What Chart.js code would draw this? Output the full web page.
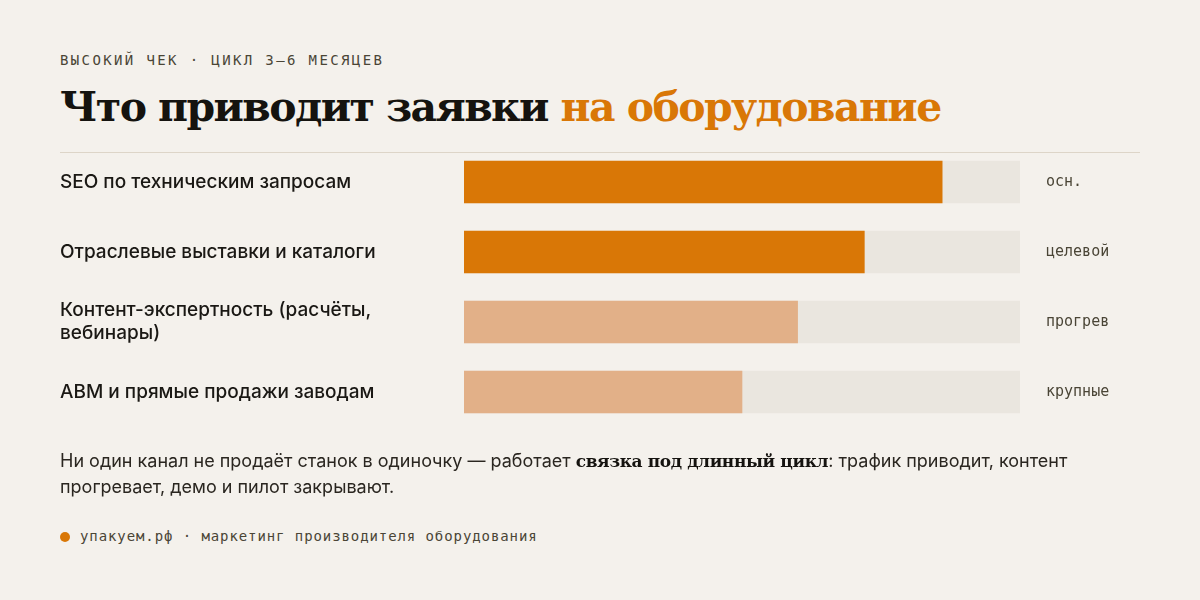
<!DOCTYPE html>
<html lang="ru">
<head>
<meta charset="utf-8">
<script src="https://cdn.jsdelivr.net/npm/chart.js@4"></script>
<style>
  html,body{margin:0;padding:0;}
  body{width:1200px;height:600px;background:#f4f1ec;position:relative;overflow:hidden;font-family:Inter,"Noto Sans",sans-serif;}
  .kicker{position:absolute;left:60px;top:52px;font-family:"DejaVu Sans Mono",monospace;font-size:14px;letter-spacing:0.17em;color:#4a4536;}
  h1{position:absolute;left:60px;top:80px;margin:0;font-family:"DejaVu Serif",serif;font-weight:bold;font-size:41px;letter-spacing:-1.6px;color:#15130f;line-height:54px;white-space:nowrap;}
  h1 span{color:#d97706;}
  .rule{position:absolute;left:60px;top:152px;width:1080px;height:1px;background:#ddd5c8;}
  #wrap{position:absolute;left:0;top:112px;width:1200px;height:350px;}
  .note{position:absolute;left:60px;top:448px;width:1080px;font-size:18px;line-height:26px;color:#2a2620;}
  .note b{font-family:"DejaVu Serif",serif;font-weight:bold;font-size:17px;color:#15130f;letter-spacing:-0.4px;}
  .foot{position:absolute;left:60px;top:528px;font-family:"DejaVu Sans Mono",monospace;font-size:14px;letter-spacing:0.065em;color:#4a4536;}
  .foot i{display:inline-block;width:10px;height:10px;border-radius:50%;background:#d97706;margin-right:10px;vertical-align:-1px;}
</style>
</head>
<body>
<div class="kicker">ВЫСОКИЙ ЧЕК · ЦИКЛ 3–6 МЕСЯЦЕВ</div>
<h1>Что приводит заявки <span>на оборудование</span></h1>
<div class="rule"></div>
<div id="wrap"><canvas id="c" width="1200" height="350"></canvas></div>
<div class="note">Ни один канал не продаёт станок в одиночку — работает <b>связка под длинный цикл</b>: трафик приводит, контент прогревает, демо и пилот закрывают.</div>
<div class="foot"><i></i>упакуем.рф · маркетинг производителя оборудования</div>
<script>
const categories = [
  "SEO по техническим запросам",
  "Отраслевые выставки и каталоги",
  ["Контент-экспертность (расчёты,", "вебинары)"],
  "ABM и прямые продажи заводам"
];
const values = [86, 72, 60, 50];
const trackValues = [100, 100, 100, 100];
const tags = ["осн.", "целевой", "прогрев", "крупные"];
const barColors = ["#d97706", "#d97706", "#e2b088", "#e2b088"];

new Chart(document.getElementById('c'), {
  type: 'bar',
  data: {
    labels: categories,
    datasets: [
      { data: values, backgroundColor: barColors, barThickness: 42, grouped: false, order: 1, borderWidth: 0 },
      { data: trackValues, backgroundColor: "#eae6df", barThickness: 42, grouped: false, order: 2, borderWidth: 0 }
    ]
  },
  options: {
    indexAxis: 'y',
    responsive: false,
    animation: false,
    events: [],
    layout: { padding: { top: 0, bottom: 0, left: 60, right: 0 } },
    plugins: { legend: { display: false }, tooltip: { enabled: false } },
    scales: {
      x: { min: 0, max: 100, display: false, grid: { display: false } },
      y: {
        position: 'left',
        grid: { display: false, drawTicks: false },
        border: { display: false },
        ticks: { crossAlign: 'far', padding: 0, color: '#1a1814',
                 font: { family: 'Inter', size: 19, weight: '500', lineHeight: 1.22 } },
        afterFit(s) { s.width = 404; }
      },
      y2: {
        type: 'category',
        labels: tags,
        position: 'right',
        offset: true,
        grid: { display: false, drawTicks: false },
        border: { display: false },
        ticks: { crossAlign: 'near', padding: 26, color: '#4a4536',
                 font: { family: 'DejaVu Sans Mono', size: 15 } },
        afterFit(s) { s.width = 180; }
      }
    }
  }
});
</script>
</body>
</html>
